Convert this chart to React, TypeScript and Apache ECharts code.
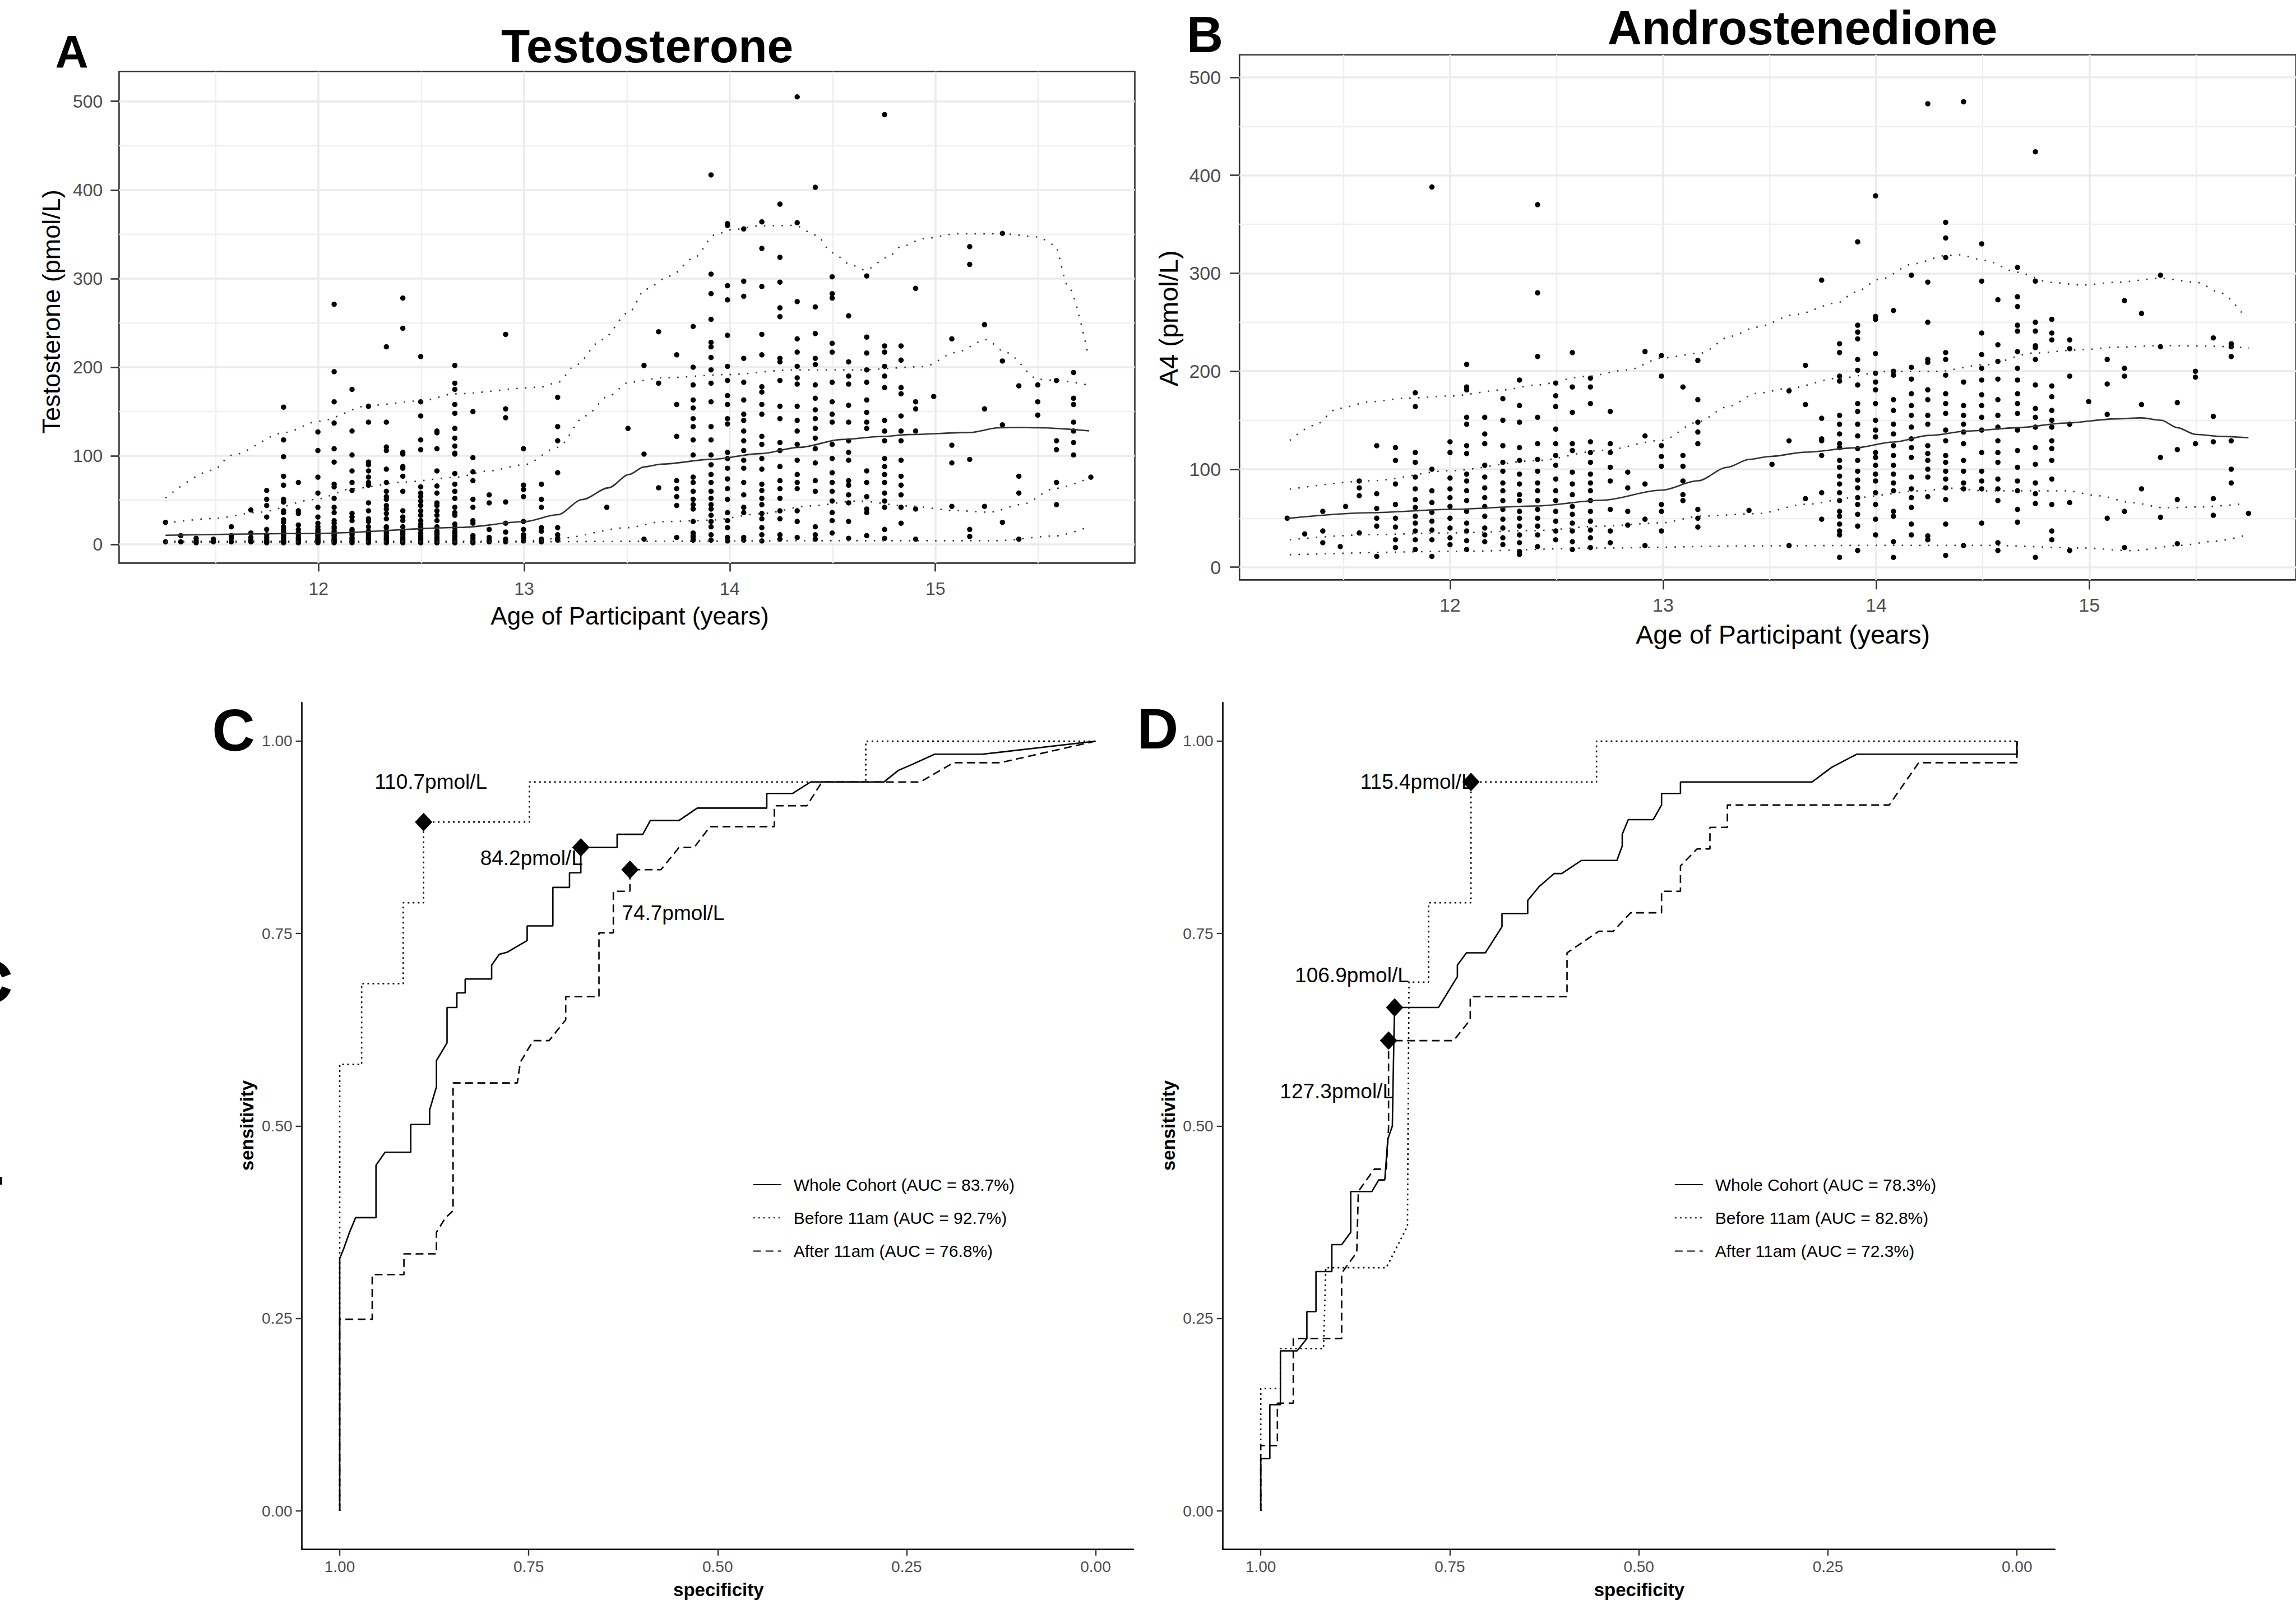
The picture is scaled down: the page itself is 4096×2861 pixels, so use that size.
import React, { useEffect, useRef } from "react";
import * as echarts from "echarts";

const FONT = '"Liberation Sans", Arial, Helvetica, sans-serif';

/* ================= Panel A: Testosterone (pmol/L) vs age ================= */
// each entry: [age in years, testosterone values (pmol/L) observed at that age]
const testosteroneYounger: [number, number[]][] = [
  [11.256, [25, 3]],
  [11.33, [10, 3]],
  [11.405, [7, 4, 2]],
  [11.489, [6, 3]],
  [11.576, [20, 10, 7, 3]],
  [11.671, [39, 13, 8, 5, 3]],
  [11.748, [61, 51, 44, 31, 17, 11, 8, 5, 3, 2]],
  [11.83, [155, 118, 99, 77, 67, 51, 48, 38, 36, 28, 25, 20, 17, 14, 12, 10, 8, 6, 4, 3, 2]],
  [11.902, [70, 38, 35, 22, 17, 13, 11, 8, 6, 4, 2]],
  [11.997, [127, 106, 76, 58, 42, 31, 24, 20, 17, 15, 13, 11, 10, 8, 6, 5, 4, 3, 2]],
  [12.076, [271, 195, 161, 137, 108, 93, 68, 65, 52, 42, 36, 27, 24, 20, 18, 15, 13, 11, 10, 8, 6, 5, 4, 3, 2]],
  [12.163, [175, 128, 101, 83, 70, 61, 35, 31, 27, 17, 15, 13, 11, 8, 6, 4, 2]],
  [12.243, [156, 138, 93, 90, 83, 76, 70, 67, 47, 38, 29, 26, 20, 15, 13, 11, 8, 6, 4, 2]],
  [12.33, [223, 138, 110, 106, 85, 70, 60, 54, 51, 44, 40, 35, 29, 20, 19, 15, 13, 10, 8, 6, 4, 2]],
  [12.41, [278, 244, 104, 102, 88, 86, 77, 60, 38, 31, 27, 20, 15, 13, 11, 8, 6, 4, 2]],
  [12.497, [212, 161, 145, 118, 107, 65, 58, 54, 49, 44, 38, 33, 27, 23, 20, 17, 13, 10, 8, 6, 4, 2]],
  [12.576, [128, 126, 108, 83, 66, 58, 47, 44, 38, 33, 27, 20, 15, 13, 11, 8, 6, 4, 2]],
  [12.663, [202, 182, 175, 158, 148, 131, 120, 111, 103, 102, 80, 68, 60, 52, 42, 36, 33, 23, 19, 15, 13, 10, 8, 6, 4, 2]],
  [12.751, [150, 98, 82, 72, 51, 42, 27, 24, 10, 7, 4, 2]],
  [12.83, [56, 47, 17, 8, 5, 3]],
  [12.91, [237, 153, 143, 48, 24, 14, 6, 3]],
  [12.997, [108, 67, 62, 54, 26, 17, 11, 8, 4]],
  [13.084, [68, 51, 42, 19, 15, 6, 3]],
  [13.163, [166, 133, 117, 81, 19, 11, 7, 5]],
  [13.402, [42]],
  [13.505, [131]],
];
const testosteroneOlder: [number, number[]][] = [
  [13.583, [202, 102, 6]],
  [13.654, [240, 182, 64]],
  [13.742, [214, 158, 122, 72, 63, 54, 44, 8]],
  [13.822, [246, 200, 180, 163, 154, 142, 133, 118, 101, 76, 70, 60, 51, 45, 40, 26, 13, 10, 8, 5]],
  [13.909, [417, 305, 283, 254, 228, 223, 211, 197, 182, 161, 133, 118, 101, 90, 79, 70, 60, 52, 45, 40, 33, 26, 20, 11, 5]],
  [13.989, [362, 360, 292, 276, 236, 201, 185, 168, 158, 142, 136, 104, 97, 86, 74, 63, 51, 36, 27, 19, 8, 4]],
  [14.068, [356, 297, 280, 210, 183, 163, 147, 140, 128, 117, 106, 95, 86, 70, 56, 42, 36, 8, 5]],
  [14.156, [364, 334, 291, 237, 214, 178, 172, 158, 147, 122, 113, 97, 85, 68, 61, 52, 45, 35, 29, 19, 11, 4]],
  [14.244, [384, 324, 296, 267, 257, 210, 206, 185, 156, 142, 115, 106, 88, 72, 63, 52, 38, 29, 11, 6]],
  [14.328, [505, 363, 274, 232, 217, 201, 188, 181, 156, 140, 128, 113, 95, 79, 70, 63, 38, 26, 8]],
  [14.416, [403, 268, 238, 210, 203, 180, 165, 152, 142, 131, 120, 108, 92, 72, 60, 20, 11, 6]],
  [14.498, [302, 283, 278, 227, 217, 183, 161, 147, 138, 113, 97, 81, 70, 60, 49, 36, 27, 13]],
  [14.578, [258, 206, 190, 181, 157, 138, 117, 104, 95, 72, 67, 56, 47, 26, 7]],
  [14.666, [303, 234, 216, 197, 183, 163, 149, 138, 131, 83, 70, 54, 40, 36, 10]],
  [14.753, [485, 224, 217, 201, 190, 177, 140, 128, 117, 97, 88, 79, 70, 58, 49, 42, 17, 7]],
  [14.833, [224, 208, 177, 170, 145, 128, 117, 95, 77, 67, 56, 42, 24]],
  [14.904, [289, 161, 153, 128, 40, 6]],
  [14.992, [167]],
  [15.08, [232, 112, 92, 43]],
  [15.167, [336, 316, 96, 17, 9]],
  [15.239, [248, 153, 43]],
  [15.326, [351, 207, 135, 25]],
  [15.406, [179, 77, 58, 6]],
  [15.498, [180, 161, 146]],
  [15.589, [185, 117, 107, 70, 45]],
  [15.672, [194, 165, 158, 138, 128, 115, 101]],
  [15.756, [76]],
];
// smoothed centile curves [age, pmol/L]
const testosteroneTop: [number, number][] = [
  [11.256, 52.5], [11.489, 84], [11.576, 100.7], [11.838, 126.4], [12.0, 139], [12.25, 157], [12.5, 162],
  [12.663, 170], [13.076, 177.4], [13.163, 182.8], [13.25, 202.4], [13.378, 231], [13.51, 262], [13.59, 288],
  [13.71, 303], [13.83, 324], [13.925, 349], [14.005, 355], [14.148, 359.5], [14.315, 360], [14.42, 349],
  [14.498, 329], [14.594, 315], [14.658, 309.5], [14.769, 324], [14.833, 336], [14.944, 345], [15.104, 350.6],
  [15.326, 350.6], [15.5, 347], [15.58, 338], [15.645, 291.7], [15.74, 216.7],
];
const testosteroneUpper: [number, number][] = [
  [11.256, 24], [11.489, 29.3], [11.711, 36.4], [11.98, 50.7], [12.17, 63.2], [12.41, 70.3], [12.663, 75.7],
  [12.82, 82.8], [13.0, 90], [13.163, 109.6], [13.298, 145.3], [13.41, 167.4], [13.51, 183], [13.67, 188],
  [13.99, 191.7], [14.307, 197], [14.626, 197], [14.944, 200.6], [15.1, 216.7], [15.247, 231], [15.342, 216.7],
  [15.502, 186.4], [15.581, 185.3], [15.74, 180],
];
const testosteroneMedian: [number, number][] = [
  [11.256, 10.4], [12.0, 12.5], [12.695, 19.3], [13.0, 25.7], [13.163, 33.6], [13.283, 50.7], [13.41, 63.9],
  [13.51, 79], [13.583, 87.5], [13.67, 90.7], [13.909, 96], [14.148, 102.5], [14.339, 109.6], [14.546, 118.5],
  [14.753, 122], [14.865, 124], [15.167, 126.4], [15.31, 131.7], [15.406, 132], [15.502, 131.7], [15.748, 128.2],
];
const testosteroneLower: [number, number][] = [
  [11.256, 3.6], [11.98, 3.6], [13.0, 3.6], [13.163, 6.8], [13.505, 19], [13.67, 25.7], [13.909, 27.5],
  [14.148, 34.6], [14.387, 43.5], [14.626, 49], [14.865, 43.5], [15.104, 38.2], [15.263, 36.4], [15.422, 45.3],
  [15.58, 63.2], [15.756, 75.7],
];
const testosteroneBottom: [number, number][] = [
  [11.256, 2.5], [12.5, 2.5], [13.5, 3.5], [14.5, 4.3], [15.3, 4.3], [15.58, 9.6], [15.73, 18.6],
];

/* ================= Panel B: Androstenedione (A4, pmol/L) vs age ================= */
const a4Younger: [number, number[]][] = [
  [11.236, [50]],
  [11.318, [34]],
  [11.403, [57, 37, 25]],
  [11.485, [21]],
  [11.51, [62]],
  [11.574, [88, 81, 73, 35]],
  [11.656, [124, 75, 60, 50, 42, 11]],
  [11.744, [122, 109, 85, 64, 50, 41, 28, 20]],
  [11.837, [178, 164, 117, 107, 92, 80, 69, 61, 52, 45, 37, 28, 18]],
  [11.915, [388, 100, 78, 66, 56, 47, 38, 28, 11]],
  [12.0, [128, 117, 91, 80, 71, 62, 50, 40, 30, 23]],
  [12.078, [207, 184, 181, 153, 146, 124, 116, 95, 88, 78, 68, 57, 45, 37, 27, 18]],
  [12.163, [153, 136, 126, 104, 92, 81, 71, 62, 52, 40, 33, 26]],
  [12.248, [172, 150, 124, 107, 98, 86, 78, 68, 59, 49, 40, 30, 23]],
  [12.326, [191, 165, 148, 122, 109, 95, 85, 74, 68, 57, 50, 42, 33, 25, 16, 13]],
  [12.411, [370, 280, 215, 153, 126, 110, 98, 86, 78, 68, 59, 50, 42, 33, 21]],
  [12.496, [188, 175, 164, 141, 126, 114, 104, 90, 78, 68, 57, 47, 37, 28]],
  [12.574, [219, 184, 158, 126, 119, 97, 85, 74, 62, 54, 45, 37, 26, 18]],
  [12.659, [193, 184, 167, 128, 117, 107, 95, 86, 78, 68, 57, 47, 38, 30, 20]],
  [12.752, [159, 126, 117, 102, 88, 59, 37, 25]],
  [12.834, [97, 81, 57, 43]],
  [12.915, [220, 134, 85, 49, 22]],
  [12.992, [216, 195, 124, 113, 103, 64, 57, 37]],
  [13.093, [184, 114, 103, 88, 74, 68]],
  [13.163, [211, 171, 148, 138, 126, 59, 50, 41]],
  [13.403, [58]],
];
const a4Older: [number, number[]][] = [
  [13.511, [105]],
  [13.591, [180, 129, 22]],
  [13.668, [206, 166, 70]],
  [13.744, [293, 152, 131, 129, 114, 76, 49]],
  [13.828, [228, 219, 195, 190, 155, 146, 136, 126, 122, 109, 102, 93, 85, 76, 68, 57, 52, 44, 37, 33, 10]],
  [13.913, [332, 247, 240, 233, 212, 201, 186, 167, 159, 146, 134, 121, 109, 98, 89, 81, 71, 64, 54, 42, 17]],
  [13.997, [379, 256, 253, 218, 198, 189, 181, 167, 150, 140, 133, 117, 112, 104, 95, 88, 76, 64, 49, 33]],
  [14.081, [262, 200, 196, 171, 160, 146, 136, 124, 114, 104, 95, 86, 78, 57, 52, 26, 10]],
  [14.165, [298, 204, 192, 177, 165, 155, 143, 131, 122, 112, 92, 80, 71, 61, 44, 33]],
  [14.242, [473, 291, 250, 212, 209, 181, 171, 155, 146, 124, 116, 109, 100, 92, 72, 32, 28]],
  [14.326, [352, 336, 316, 219, 212, 196, 177, 167, 157, 140, 129, 114, 107, 98, 90, 81, 69, 44, 12]],
  [14.41, [475, 189, 165, 155, 146, 138, 126, 109, 98, 86, 80, 22]],
  [14.495, [330, 292, 239, 217, 203, 191, 176, 165, 153, 140, 117, 98, 88, 80, 45]],
  [14.571, [273, 227, 210, 192, 171, 155, 143, 129, 117, 107, 90, 80, 68, 25, 17]],
  [14.663, [306, 276, 266, 247, 241, 220, 203, 191, 177, 167, 157, 140, 119, 102, 88, 78, 59, 46]],
  [14.747, [424, 292, 250, 241, 226, 224, 212, 186, 162, 153, 143, 122, 105, 86, 75, 65, 10]],
  [14.824, [253, 239, 232, 185, 174, 160, 150, 143, 129, 121, 109, 90, 64, 37, 28]],
  [14.908, [232, 223, 195, 146, 66, 17]],
  [14.997, [169]],
  [15.084, [212, 187, 156, 50]],
  [15.165, [272, 203, 195, 57, 20]],
  [15.245, [259, 166, 80]],
  [15.334, [298, 225, 112, 51]],
  [15.413, [168, 120, 69, 24]],
  [15.498, [200, 194, 126]],
  [15.582, [234, 154, 128, 70, 53]],
  [15.666, [228, 225, 215, 129, 100, 86]],
  [15.747, [55]],
];
const a4Top: [number, number][] = [
  [11.248, 129.4], [11.364, 144.8], [11.473, 162], [11.628, 168.9], [11.783, 172.3], [12.0, 174.7], [12.248, 180.9],
  [12.403, 186], [12.636, 194.6], [12.837, 201.5], [12.992, 213.5], [13.178, 218.6], [13.318, 235.8], [13.438, 245],
  [13.622, 258], [13.821, 270], [13.897, 280.4], [14.02, 294], [14.173, 309.6], [14.326, 318], [14.387, 318.8],
  [14.51, 313], [14.663, 301], [14.816, 290.7], [14.969, 288], [15.122, 290.7], [15.337, 294.8], [15.505, 290.7],
  [15.613, 280.4], [15.727, 256.4],
];
const a4Upper: [number, number][] = [
  [11.248, 79.6], [11.628, 88.2], [12.0, 98.5], [12.403, 108.8], [12.713, 119.1], [12.992, 129.4], [13.163, 148.3],
  [13.302, 163.7], [13.438, 177.4], [13.591, 182.6], [13.821, 192.9], [14.05, 199.7], [14.28, 199.7], [14.51, 206.6],
  [14.74, 218.6], [14.969, 222], [15.122, 224.5], [15.352, 226.2], [15.582, 225.5], [15.75, 223.8],
];
const a4Median: [number, number][] = [
  [11.236, 49.8], [11.628, 55.6], [12.0, 59], [12.403, 62.5], [12.713, 68.3], [12.992, 78.6], [13.163, 88.2],
  [13.302, 102], [13.403, 110], [13.5, 113], [13.668, 117.4], [13.897, 121.8], [14.081, 127.7], [14.25, 134.5],
  [14.433, 139], [14.663, 142.4], [14.893, 147.2], [15.122, 151.4], [15.245, 152.4], [15.337, 150], [15.413, 142.4],
  [15.498, 135.6], [15.613, 133.5], [15.747, 132.1],
];
const a4Lower: [number, number][] = [
  [11.248, 28.1], [11.628, 33.3], [12.0, 35], [12.403, 37.4], [12.713, 41.9], [12.992, 45.3], [13.178, 52.2],
  [13.438, 54.6], [13.668, 64.2], [13.897, 71], [14.204, 77.9], [14.357, 80.6], [14.51, 77.9], [14.893, 77.9],
  [15.046, 72.8], [15.199, 65.9], [15.352, 60.7], [15.505, 61.4], [15.735, 64.9],
];
const a4Bottom: [number, number][] = [
  [11.248, 12.7], [12.0, 16.1], [12.713, 19.6], [13.438, 21.8], [14.05, 22.3], [14.51, 22.3], [14.969, 19.6],
  [15.199, 16.8], [15.429, 22.3], [15.582, 26.4], [15.735, 32.6],
];

/* ================= Panels C & D: ROC curves [specificity, sensitivity] ================= */
const rocTestoWhole: [number, number][] = [
  [1, 0], [1, 0.328], [0.995, 0.34], [0.987, 0.362], [0.979, 0.381], [0.952, 0.381], [0.952, 0.449], [0.94, 0.466],
  [0.906, 0.466], [0.906, 0.502], [0.881, 0.502], [0.881, 0.521], [0.872, 0.551], [0.872, 0.585], [0.858, 0.608],
  [0.858, 0.654], [0.845, 0.654], [0.845, 0.673], [0.834, 0.673], [0.834, 0.691], [0.799, 0.691], [0.799, 0.709],
  [0.789, 0.723], [0.778, 0.726], [0.752, 0.741], [0.752, 0.76], [0.718, 0.76], [0.718, 0.81], [0.696, 0.81],
  [0.696, 0.829], [0.681, 0.829], [0.681, 0.862], [0.633, 0.862], [0.633, 0.879], [0.599, 0.879], [0.589, 0.897],
  [0.551, 0.897], [0.527, 0.913], [0.435, 0.913], [0.435, 0.932], [0.401, 0.932], [0.377, 0.947], [0.28, 0.947],
  [0.261, 0.962], [0.242, 0.97], [0.213, 0.983], [0.15, 0.983], [0, 1],
];
const rocTestoBefore: [number, number][] = [
  [1, 0], [1, 0.58], [0.971, 0.58], [0.971, 0.685], [0.916, 0.685], [0.916, 0.79], [0.889, 0.79], [0.889, 0.895],
  [0.749, 0.895], [0.749, 0.947], [0.304, 0.947], [0.304, 1], [0, 1],
];
const rocTestoAfter: [number, number][] = [
  [1, 0], [1, 0.249], [0.957, 0.249], [0.957, 0.307], [0.915, 0.307], [0.915, 0.334], [0.872, 0.334], [0.872, 0.362],
  [0.86, 0.381], [0.85, 0.39], [0.85, 0.556], [0.765, 0.556], [0.761, 0.583], [0.744, 0.611], [0.723, 0.611],
  [0.701, 0.638], [0.701, 0.668], [0.657, 0.668], [0.657, 0.751], [0.638, 0.751], [0.638, 0.805], [0.616, 0.805],
  [0.616, 0.833], [0.575, 0.833], [0.551, 0.862], [0.531, 0.862], [0.51, 0.889], [0.425, 0.889], [0.425, 0.916],
  [0.382, 0.916], [0.362, 0.947], [0.232, 0.947], [0.188, 0.972], [0.126, 0.972], [0, 1],
];
const rocA4Whole: [number, number][] = [
  [1, 0], [1, 0.068], [0.988, 0.068], [0.988, 0.138], [0.974, 0.138], [0.974, 0.208], [0.952, 0.208], [0.939, 0.224],
  [0.939, 0.259], [0.927, 0.259], [0.927, 0.311], [0.906, 0.311], [0.906, 0.346], [0.893, 0.346], [0.881, 0.362],
  [0.881, 0.415], [0.853, 0.415], [0.844, 0.43], [0.836, 0.43], [0.832, 0.483], [0.826, 0.5], [0.824, 0.611],
  [0.823, 0.654], [0.765, 0.654], [0.74, 0.694], [0.74, 0.709], [0.728, 0.725], [0.703, 0.725], [0.681, 0.759],
  [0.681, 0.776], [0.647, 0.776], [0.647, 0.793], [0.632, 0.811], [0.612, 0.828], [0.602, 0.828], [0.576, 0.845],
  [0.529, 0.845], [0.522, 0.864], [0.522, 0.879], [0.514, 0.898], [0.481, 0.898], [0.47, 0.917], [0.47, 0.932],
  [0.445, 0.932], [0.445, 0.947], [0.271, 0.947], [0.245, 0.966], [0.212, 0.983], [0, 0.983], [0, 1],
];
const rocA4Before: [number, number][] = [
  [1, 0], [1, 0.159], [0.974, 0.159], [0.974, 0.211], [0.917, 0.211], [0.914, 0.316], [0.834, 0.316], [0.806, 0.37],
  [0.804, 0.687], [0.778, 0.687], [0.778, 0.79], [0.722, 0.79], [0.722, 0.947], [0.556, 0.947], [0.556, 1], [0, 1],
];
const rocA4After: [number, number][] = [
  [1, 0], [1, 0.085], [0.978, 0.085], [0.978, 0.14], [0.957, 0.14], [0.957, 0.224], [0.893, 0.224], [0.893, 0.309],
  [0.873, 0.336], [0.871, 0.415], [0.85, 0.444], [0.834, 0.444], [0.831, 0.498], [0.831, 0.611], [0.745, 0.611],
  [0.723, 0.638], [0.723, 0.668], [0.595, 0.668], [0.595, 0.725], [0.553, 0.753], [0.534, 0.753], [0.511, 0.777],
  [0.47, 0.777], [0.47, 0.805], [0.445, 0.805], [0.445, 0.838], [0.423, 0.86], [0.406, 0.86], [0.406, 0.888],
  [0.383, 0.888], [0.383, 0.917], [0.169, 0.917], [0.13, 0.972], [0, 0.972], [0, 1],
];
const rocTestoNames = ["Whole Cohort (AUC = 83.7%)", "Before 11am (AUC = 92.7%)", "After 11am (AUC = 76.8%)"];
const rocA4Names = ["Whole Cohort (AUC = 78.3%)", "Before 11am (AUC = 82.8%)", "After 11am (AUC = 72.3%)"];

// optimal cut-points: [specificity, sensitivity] and their labels
const cutTestoPoints: [number, number][] = [[0.889, 0.895], [0.681, 0.862], [0.616, 0.833]];
const cutTestoLabels = ["110.7pmol/L", "84.2pmol/L", "74.7pmol/L"];
const cutA4Points: [number, number][] = [[0.722, 0.947], [0.823, 0.654], [0.831, 0.611]];
const cutA4Labels = ["115.4pmol/L", "106.9pmol/L", "127.3pmol/L"];

/* ================= axis breaks ================= */
const ageBreaks = [12, 13, 14, 15];
const ageMinorBreaks = [11.5, 12.5, 13.5, 14.5, 15.5];
const hormoneBreaks = [0, 100, 200, 300, 400, 500];
const hormoneMinorBreaks = [50, 150, 250, 350, 450];
const rocBreaks = [0, 0.25, 0.5, 0.75, 1];

/* ================= layout / style (not data) ================= */
const cutTestoLabelOffsets = [[13, -72], [-88, 19], [77, 77]];
const cutA4LabelOffsets = [[-97, 0], [-76, -58], [-92, 90]];

const expand = (cols: [number, number[]][]) => cols.flatMap(([a, vs]) => vs.map((v) => [a, v]));

function gridLineSeries(xi: number, yi: number) {
  const major = { color: "#EBEBEB", width: 3.5, type: "solid" };
  const minor = { color: "#EFEFEF", width: 2.4, type: "solid" };
  return {
    type: "line",
    xAxisIndex: xi,
    yAxisIndex: yi,
    data: [],
    silent: true,
    z: 1,
    markLine: {
      z: 1,
      zlevel: 0,
      silent: true,
      animation: false,
      symbol: ["none", "none"],
      label: { show: false },
      emphasis: { disabled: true },
      lineStyle: major,
      data: [
        ...ageMinorBreaks.map((v) => ({ xAxis: v, lineStyle: minor })),
        ...hormoneMinorBreaks.map((v) => ({ yAxis: v, lineStyle: minor })),
        ...ageBreaks.map((v) => ({ xAxis: v, lineStyle: major })),
        ...hormoneBreaks.map((v) => ({ yAxis: v, lineStyle: major })),
      ],
    },
  };
}

function curve(data: [number, number][], xi: number, yi: number, dotted: boolean) {
  return {
    type: "line",
    xAxisIndex: xi,
    yAxisIndex: yi,
    data,
    symbol: "none",
    showSymbol: false,
    smooth: 0.3,
    smoothMonotone: "x",
    silent: true,
    z: 4,
    lineStyle: { color: "#333333", width: 2.6, type: dotted ? [2.6, 13] : "solid" },
  };
}

function rocLine(name: string, data: [number, number][], xi: number, style: any) {
  return {
    type: "line",
    name,
    xAxisIndex: xi,
    yAxisIndex: xi,
    data,
    symbol: "none",
    showSymbol: false,
    silent: true,
    z: 3,
    lineStyle: { color: "#000", width: 2.6, type: style },
    itemStyle: { color: "#000" },
  };
}

function cutSeries(points: [number, number][], labels: string[], offsets: number[][], xi: number) {
  return {
    type: "scatter",
    xAxisIndex: xi,
    yAxisIndex: xi,
    symbol: "diamond",
    symbolSize: [31, 33],
    itemStyle: { color: "#000", opacity: 1 },
    silent: true,
    z: 6,
    data: points.map((p, i) => ({ value: p, name: labels[i], label: { offset: offsets[i] } })),
    label: {
      show: true,
      position: "inside",
      formatter: (p: any) => p.name,
      fontSize: 37,
      fontFamily: FONT,
      color: "#000",
      textBorderWidth: 0,
    },
  };
}

function scatterAxisX(grid: number, min: number, max: number, fs: number, margin: number, tick: number) {
  return {
    type: "value",
    gridIndex: grid,
    min,
    max,
    axisLine: { show: false, onZero: false },
    splitLine: { show: false },
    axisTick: { show: true, customValues: ageBreaks, length: tick, lineStyle: { color: "#333", width: 2.6 } },
    axisLabel: { customValues: ageBreaks, fontSize: fs, color: "#4D4D4D", fontFamily: FONT, margin },
  };
}
function scatterAxisY(grid: number, min: number, max: number, fs: number, margin: number, tick: number) {
  return {
    type: "value",
    gridIndex: grid,
    min,
    max,
    axisLine: { show: false, onZero: false },
    splitLine: { show: false },
    axisTick: { show: true, customValues: hormoneBreaks, length: tick, lineStyle: { color: "#333", width: 2.6 } },
    axisLabel: { customValues: hormoneBreaks, fontSize: fs, color: "#4D4D4D", fontFamily: FONT, margin },
  };
}
function rocAxis(grid: number, isX: boolean) {
  return {
    type: "value",
    gridIndex: grid,
    min: -0.05,
    max: 1.05,
    inverse: isX,
    axisLine: { show: true, onZero: false, lineStyle: { color: "#000", width: 2.6 } },
    splitLine: { show: false },
    axisTick: { show: true, customValues: rocBreaks, length: 11, lineStyle: { color: "#333", width: 2.4 } },
    axisLabel: {
      customValues: rocBreaks,
      formatter: (v: number) => v.toFixed(2),
      fontSize: 28,
      color: "#4D4D4D",
      fontFamily: FONT,
      margin: 17,
    },
  };
}

function text(t: string, x: number, y: number, size: number, o: any = {}) {
  return {
    type: "text",
    x,
    y,
    rotation: o.rotation || 0,
    silent: true,
    style: {
      text: t,
      fontSize: size,
      fontFamily: FONT,
      fontWeight: o.bold ? "bold" : "normal",
      fill: "#000",
      align: o.align || "center",
      verticalAlign: "middle",
      textAlign: o.align || "center",
      textVerticalAlign: "middle",
    },
  };
}

function legendFor(names: string[], left: number) {
  return {
    data: names,
    orient: "vertical",
    left,
    top: 2098,
    padding: 0,
    itemWidth: 50,
    itemHeight: 20,
    itemGap: 29.2,
    selectedMode: false,
    itemStyle: { opacity: 0, borderWidth: 0 },
    textStyle: { fontSize: 30, color: "#000", fontFamily: FONT, padding: [0, 0, 0, 17] },
  };
}

// fragment of a cropped neighbouring panel letter at the left edge (drawn as shapes)
const edgeFragment = [
  { type: "arc", silent: true, shape: { cx: -17.5, cy: 1751.4, r: 31, startAngle: -1.32, endAngle: -0.36 }, style: { stroke: "#000", lineWidth: 17, fill: null } },
  { type: "arc", silent: true, shape: { cx: -17.5, cy: 1751.4, r: 31, startAngle: 0.36, endAngle: 1.32 }, style: { stroke: "#000", lineWidth: 17, fill: null } },
  { type: "rect", silent: true, shape: { x: 0, y: 2099, width: 4, height: 14 }, style: { fill: "#000" } },
];

export default function App() {
  const ref = useRef<HTMLDivElement>(null);
  useEffect(() => {
    if (!ref.current) return;
    const chart = echarts.init(ref.current, null, { renderer: "svg" });
    const option: any = {
      animation: false,
      backgroundColor: "#fff",
      grid: [
        { left: 212.4, top: 127.7, width: 1812.1, height: 876.7, show: true, borderColor: "#333", borderWidth: 2.6, backgroundColor: "#fff", containLabel: false },
        { left: 2211.2, top: 97.7, width: 1936.2, height: 936.7, show: true, borderColor: "#333", borderWidth: 2.6, backgroundColor: "#fff", containLabel: false },
        { left: 538.6, top: 1253.3, width: 1483.3, height: 1510.4, show: false },
        { left: 2181.7, top: 1253.3, width: 1484, height: 1510.4, show: false },
      ],
      xAxis: [
        scatterAxisX(0, 11.03, 15.97, 32, 30, 15),
        scatterAxisX(1, 11.012, 15.97, 34, 27.5, 17),
        rocAxis(2, true),
        rocAxis(3, true),
      ],
      yAxis: [
        scatterAxisY(0, -21, 533.5, 32, 29, 15),
        scatterAxisY(1, -13, 523, 34, 33, 17),
        rocAxis(2, false),
        rocAxis(3, false),
      ],
      legend: [legendFor(rocTestoNames, 1342.7), legendFor(rocA4Names, 2986.8)],
      series: [
        gridLineSeries(0, 0),
        {
          type: "scatter", xAxisIndex: 0, yAxisIndex: 0, silent: true, z: 3, symbolSize: 9.5,
          itemStyle: { color: "#000", opacity: 1 },
          data: [...expand(testosteroneYounger), ...expand(testosteroneOlder)],
        },
        curve(testosteroneBottom, 0, 0, true),
        curve(testosteroneLower, 0, 0, true),
        curve(testosteroneUpper, 0, 0, true),
        curve(testosteroneTop, 0, 0, true),
        curve(testosteroneMedian, 0, 0, false),

        gridLineSeries(1, 1),
        {
          type: "scatter", xAxisIndex: 1, yAxisIndex: 1, silent: true, z: 3, symbolSize: 9.5,
          itemStyle: { color: "#000", opacity: 1 },
          data: [...expand(a4Younger), ...expand(a4Older)],
        },
        curve(a4Bottom, 1, 1, true),
        curve(a4Lower, 1, 1, true),
        curve(a4Upper, 1, 1, true),
        curve(a4Top, 1, 1, true),
        curve(a4Median, 1, 1, false),

        rocLine(rocTestoNames[0], rocTestoWhole, 2, "solid"),
        rocLine(rocTestoNames[1], rocTestoBefore, 2, [3, 6]),
        rocLine(rocTestoNames[2], rocTestoAfter, 2, [14, 8]),
        cutSeries(cutTestoPoints, cutTestoLabels, cutTestoLabelOffsets, 2),

        rocLine(rocA4Names[0], rocA4Whole, 3, "solid"),
        rocLine(rocA4Names[1], rocA4Before, 3, [3, 6]),
        rocLine(rocA4Names[2], rocA4After, 3, [14, 8]),
        cutSeries(cutA4Points, cutA4Labels, cutA4LabelOffsets, 3),
      ],
      graphic: {
        elements: [
          text("A", 98.5, 91.4, 82, { bold: true, align: "left" }),
          text("Testosterone", 1154.6, 82.3, 84, { bold: true }),
          text("B", 2117, 62.4, 90, { bold: true, align: "left" }),
          text("Androstenedione", 3215.6, 49.1, 84.6, { bold: true }),
          text("C", 378.2, 1302.3, 106, { bold: true, align: "left" }),
          text("D", 2028.6, 1300.1, 102, { bold: true, align: "left" }),
          ...edgeFragment,
          text("Testosterone (pmol/L)", 91.7, 555.9, 45, { rotation: Math.PI / 2 }),
          text("Age of Participant (years)", 1123.5, 1098.4, 44),
          text("A4 (pmol/L)", 2084.5, 567.8, 47, { rotation: Math.PI / 2 }),
          text("Age of Participant (years)", 3180.6, 1132.4, 46.5),
          text("sensitivity", 440.2, 2007.5, 33, { bold: true, rotation: Math.PI / 2 }),
          text("specificity", 1281.8, 2835.5, 33, { bold: true }),
          text("sensitivity", 2084.5, 2007.5, 33, { bold: true, rotation: Math.PI / 2 }),
          text("specificity", 2924.4, 2835.5, 33, { bold: true }),
        ],
      },
    };
    chart.setOption(option);
    return () => chart.dispose();
  }, []);
  return (
    <div
      ref={ref}
      style={{ position: "absolute", left: 0, top: 0, width: 4096, height: 2861, background: "#fff" }}
    />
  );
}
